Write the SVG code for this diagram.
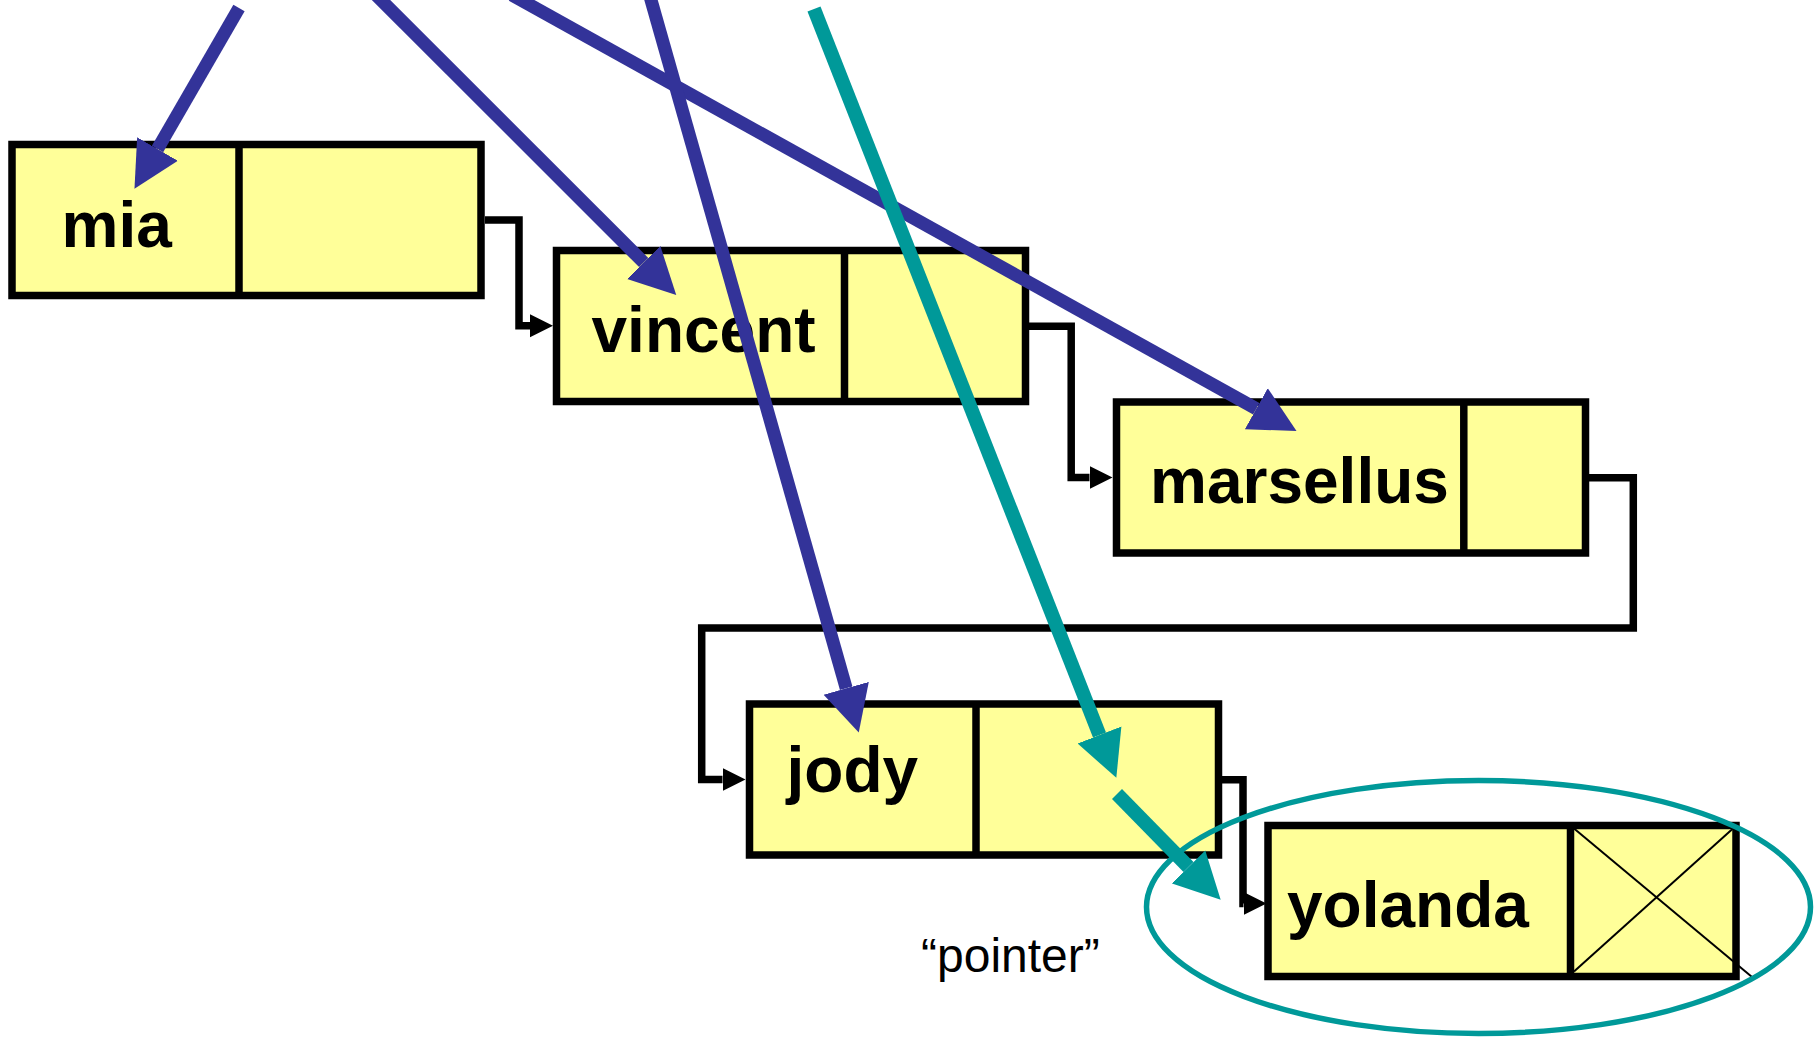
<svg xmlns="http://www.w3.org/2000/svg" width="1816" height="1038" viewBox="0 0 1816 1038">
  <defs>
    <style>
      .cell { fill: #FFFF99; stroke: #000; stroke-width: 7.5; }
      .divider { stroke: #000; stroke-width: 7.5; }
      .name { font-family: "Liberation Sans", Arial, sans-serif; font-weight: bold; font-size: 64px; fill: #000; }
      .label { font-family: "Liberation Sans", Arial, sans-serif; font-size: 48px; fill: #000; }
      .link { fill: none; stroke: #000; stroke-width: 7.5; stroke-linejoin: miter; marker-end: url(#head-link); }
      .ptr { fill: none; stroke: #333399; stroke-width: 13; marker-end: url(#head-blue); }
      .ptr-teal { fill: none; stroke: #009999; stroke-width: 14; marker-end: url(#head-teal); }
      .nil { stroke: #000; stroke-width: 2; }
    </style>
    <marker id="head-link" markerUnits="userSpaceOnUse" viewBox="0 -12 24 24" refX="0" refY="0" markerWidth="24" markerHeight="24" orient="auto">
      <path d="M0,-11.5 L23,0 L0,11.5 Z" fill="#000"/>
    </marker>
    <marker id="head-blue" markerUnits="userSpaceOnUse" viewBox="0 -24 48 48" refX="0" refY="0" markerWidth="48" markerHeight="48" orient="auto">
      <path d="M0,-23.5 L46,0 L0,23.5 Z" fill="#333399"/>
    </marker>
    <marker id="head-teal" markerUnits="userSpaceOnUse" viewBox="0 -24 48 48" refX="0" refY="0" markerWidth="48" markerHeight="48" orient="auto">
      <path d="M0,-23.5 L46,0 L0,23.5 Z" fill="#009999"/>
    </marker>
  </defs>

  <rect width="1816" height="1038" fill="#fff"/>

  <!-- list cells: value part | next-pointer part -->
  <g id="node-mia">
    <rect class="cell" x="12" y="144.5" width="469" height="151"/>
    <line class="divider" x1="239" y1="144.5" x2="239" y2="295.5"/>
    <text class="name" x="61.5" y="246.7">mia</text>
  </g>
  <g id="node-vincent">
    <rect class="cell" x="556.5" y="250.5" width="469" height="151"/>
    <line class="divider" x1="844.5" y1="250.5" x2="844.5" y2="401.5"/>
    <text class="name" x="591.5" y="351.7">vincent</text>
  </g>
  <g id="node-marsellus">
    <rect class="cell" x="1116.5" y="402" width="469" height="151"/>
    <line class="divider" x1="1463.8" y1="402" x2="1463.8" y2="553"/>
    <text class="name" x="1150" y="502.7">marsellus</text>
  </g>
  <g id="node-jody">
    <rect class="cell" x="749.5" y="704" width="469" height="151"/>
    <line class="divider" x1="976" y1="704" x2="976" y2="855"/>
    <text class="name" x="786.5" y="791.7">jody</text>
  </g>
  <g id="node-yolanda">
    <rect class="cell" x="1268" y="825.5" width="468" height="151"/>
    <line class="divider" x1="1570.5" y1="825.5" x2="1570.5" y2="976.5"/>
    <text class="name" x="1287" y="926.7">yolanda</text>
    <!-- null next pointer -->
    <line class="nil" x1="1574" y1="828.5" x2="1752" y2="977"/>
    <line class="nil" x1="1574" y1="971.5" x2="1733" y2="828.5"/>
  </g>

  <!-- next links between cells -->
  <g id="links">
    <path class="link" d="M485,220 H519 V325.8 H530"/>
    <path class="link" d="M1029,326.3 H1071.2 V477.5 H1089.5"/>
    <path class="link" d="M1589,477.7 H1633.3 V628 H701.7 V779.6 H722.5"/>
    <path class="link" d="M1222,779.7 H1243 V903.5 H1243.5"/>
  </g>

  <!-- marked last cell -->
  <g id="tail-ring">
    <ellipse cx="1478.5" cy="907" rx="332" ry="126.5" fill="none" stroke="#009999" stroke-width="5.5"/>
  </g>

  <!-- external pointers into the list -->
  <g id="pointers">
    <path class="ptr" d="M239,8 L157.5,149"/>
    <path class="ptr" d="M376,-5 L643.7,262.5"/>
    <path class="ptr" d="M512,-5 L1256.3,408.7"/>
    <path class="ptr" d="M649.6,-5 L846.2,688.3"/>
    <path class="ptr-teal" d="M814,9 L1099.5,735"/>
    <path class="ptr-teal" d="M1117,794 L1188.5,867"/>
  </g>

  <text class="label" x="921" y="971.5">“pointer”</text>
</svg>
